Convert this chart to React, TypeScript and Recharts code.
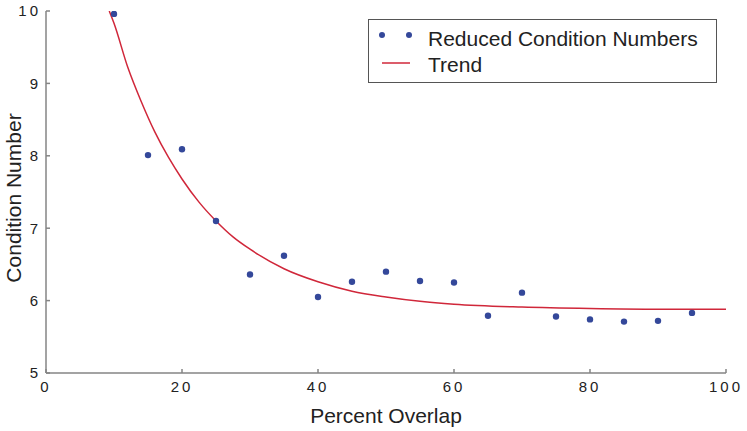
import React from 'react'
import {
  ComposedChart,
  Scatter,
  Line,
  XAxis,
  YAxis,
} from 'recharts'

// ─── Data ─────────────────────────────────────────────────────────────────────

const OVERLAP = [10, 15, 20, 25, 30, 35, 40, 45, 50, 55, 60, 65, 70, 75, 80, 85, 90, 95]
const CONDITION = [
  9.96, 8.01, 8.09, 7.1, 6.36, 6.62, 6.05, 6.26, 6.4, 6.27, 6.25, 5.79, 6.11, 5.78, 5.74, 5.71, 5.72,
  5.83,
]

// trend curve
const TREND_X = [9.3, 10, 12, 14, 16, 18, 20, 22.5, 25, 27.5, 30, 35, 40, 45, 50, 55, 60, 70, 80, 90, 100]
const TREND_Y = [
  10.0, 9.83, 9.23, 8.75, 8.33, 7.98, 7.68, 7.36, 7.1, 6.88, 6.71, 6.44, 6.26, 6.13, 6.05, 5.99, 5.95,
  5.91, 5.89, 5.88, 5.88,
]

const X_TICKS = [0, 20, 40, 60, 80, 100]
const Y_TICKS = [5, 6, 7, 8, 9, 10]

const DOT = '#34489a'
const RED = '#d0273a'
const AXIS = '#858585'
const FONT = 'Liberation Sans, Arial, Helvetica, sans-serif'

const points = OVERLAP.map((x, i) => ({ x, y: CONDITION[i] }))
const trend = TREND_X.map((x, i) => ({ x, y: TREND_Y[i] }))

// ─── Legend ───────────────────────────────────────────────────────────────────

function ChartLegend() {
  return (
    <svg
      width={349}
      height={65}
      style={{ display: 'block', position: 'absolute', left: 368, top: 19 }}
    >
      <rect x={0.5} y={0.5} width={348} height={63} fill="#fff" stroke="#555" strokeWidth={1} />
      <circle cx={14} cy={16} r={3} fill={DOT} />
      <circle cx={41} cy={16} r={3} fill={DOT} />
      <text x={60} y={27} fontSize={21} fontFamily={FONT} fill="#222">
        Reduced Condition Numbers
      </text>
      <line x1={14} x2={42} y1={44} y2={44} stroke={RED} strokeWidth={1.5} />
      <text x={60} y={53} fontSize={21} fontFamily={FONT} fill="#222">
        Trend
      </text>
    </svg>
  )
}

// ─── Chart ────────────────────────────────────────────────────────────────────

export default function App() {
  const tick = { fontSize: 15, fill: '#222', fontFamily: FONT, letterSpacing: 3 }
  return (
    <div style={{ position: 'absolute', left: 0, top: 0, width: 747, height: 431, background: '#fff' }}>
      <ComposedChart width={747} height={431} margin={{ top: 11, right: 21, bottom: 0, left: 0 }}>
        <XAxis
          dataKey="x"
          type="number"
          domain={[0, 100]}
          ticks={X_TICKS}
          allowDataOverflow
          height={58}
          tick={tick}
          tickSize={-4}
          tickMargin={12}
          stroke={AXIS}
          strokeWidth={1.5}
          label={{
            content: ({ viewBox }: any) => (
              <text
                x={viewBox.x + viewBox.width / 2}
                y={viewBox.y + 50}
                textAnchor="middle"
                fontSize={21}
                fontFamily={FONT}
                fill="#222"
              >
                Percent Overlap
              </text>
            ),
          }}
        />
        <YAxis
          dataKey="y"
          type="number"
          domain={[5, 10]}
          ticks={Y_TICKS}
          allowDataOverflow
          width={46}
          tick={tick}
          tickSize={-4}
          tickMargin={9}
          stroke={AXIS}
          strokeWidth={1.5}
          label={{
            content: ({ viewBox }: any) => {
              const cx = 21
              const cy = viewBox.y + viewBox.height / 2 + 6
              return (
                <text
                  x={cx}
                  y={cy}
                  transform={`rotate(-90 ${cx} ${cy})`}
                  textAnchor="middle"
                  fontSize={21}
                  fontFamily={FONT}
                  fill="#222"
                >
                  Condition Number
                </text>
              )
            },
          }}
        />
        <Line
          data={trend}
          dataKey="y"
          type="monotone"
          stroke={RED}
          strokeWidth={1.5}
          dot={false}
          activeDot={false}
          isAnimationActive={false}
        />
        <Scatter
          data={points}
          dataKey="y"
          fill={DOT}
          shape={(p: any) => <circle cx={p.cx} cy={p.cy} r={3.2} fill={DOT} />}
          isAnimationActive={false}
        />
      </ComposedChart>
      <ChartLegend />
    </div>
  )
}
